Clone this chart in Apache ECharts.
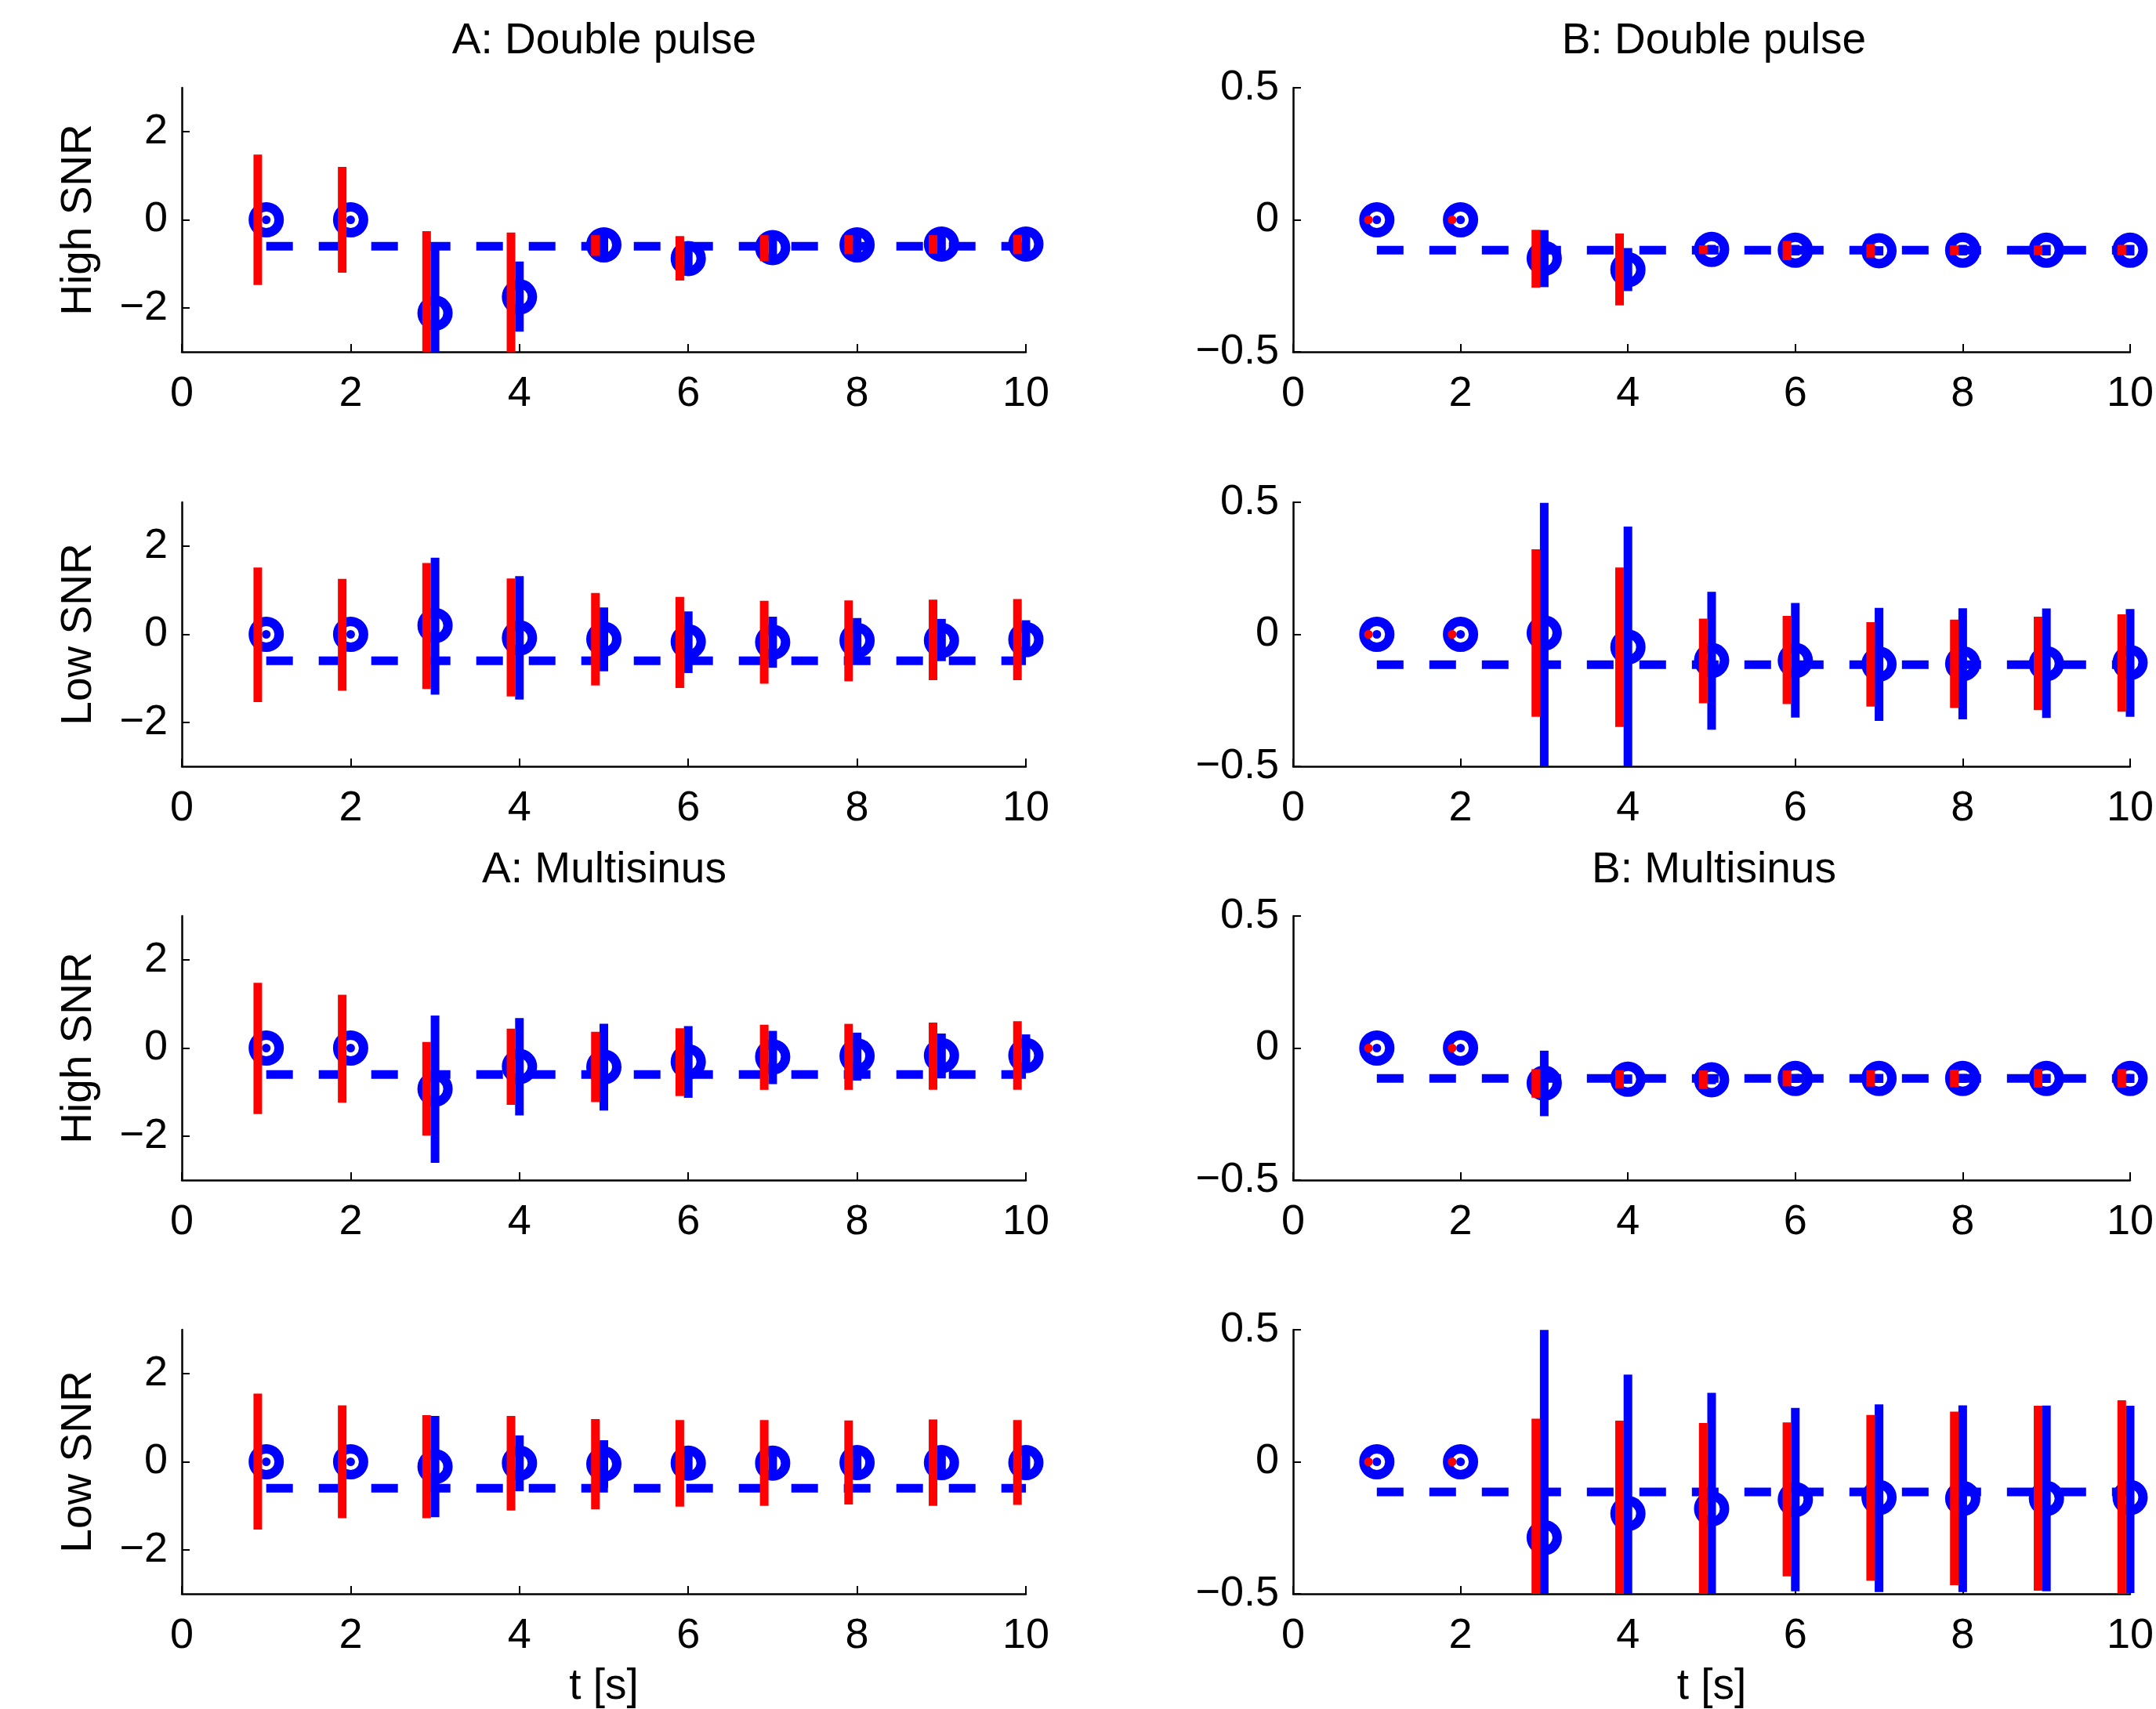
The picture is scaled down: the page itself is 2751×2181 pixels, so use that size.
<!DOCTYPE html>
<html>
<head>
<meta charset="utf-8">
<title>Double pulse / Multisinus estimates</title>
<script src="https://cdn.jsdelivr.net/npm/echarts@6.0.0/dist/echarts.min.js"></script>
<style>
  html, body { margin: 0; padding: 0; background: #fff; }
  #chart { width: 2751px; height: 2181px; }
</style>
</head>
<body>
<div id="chart"></div>
<script>
// time axis, shared by all panels
const tSec = [1, 2, 3, 4, 5, 6, 7, 8, 9, 10];
const xTicks = [0, 2, 4, 6, 8, 10];
const yTicksA = [-2, 0, 2];
const yTicksB = [-0.5, 0, 0.5];

// A: Double pulse, High SNR
const aDpHighTrue = -0.6;
const aDpHighMean = [0, 0, -2.12, -1.75, -0.57, -0.88, -0.63, -0.57, -0.55, -0.55];
const aDpHighRedLo = [-1.48, -1.2, -3.98, -3.21, -0.82, -1.38, -0.94, -0.78, -0.77, -0.78];
const aDpHighRedHi = [1.48, 1.2, -0.26, -0.29, -0.35, -0.37, -0.35, -0.35, -0.35, -0.34];
const aDpHighBlueLo = [0, 0, -3.72, -2.54, -0.77, -1.08, -0.83, -0.77, -0.75, -0.75];
const aDpHighBlueHi = [0, 0, -0.52, -0.95, -0.37, -0.68, -0.43, -0.37, -0.35, -0.35];

// A: Double pulse, Low SNR
const aDpLowTrue = -0.6;
const aDpLowMean = [0, 0, 0.2, -0.08, -0.11, -0.17, -0.18, -0.14, -0.14, -0.12];
const aDpLowRedLo = [-1.54, -1.28, -1.24, -1.41, -1.16, -1.22, -1.12, -1.07, -1.04, -1.04];
const aDpLowRedHi = [1.52, 1.26, 1.62, 1.27, 0.94, 0.85, 0.76, 0.77, 0.79, 0.80];
const aDpLowBlueLo = [0, 0, -1.37, -1.48, -0.84, -0.88, -0.76, -0.55, -0.61, -0.50];
const aDpLowBlueHi = [0, 0, 1.74, 1.32, 0.61, 0.52, 0.40, 0.37, 0.35, 0.32];

// A: Multisinus, High SNR
const aMsHighTrue = -0.6;
const aMsHighMean = [0, 0, -0.93, -0.42, -0.43, -0.31, -0.2, -0.18, -0.17, -0.17];
const aMsHighRedLo = [-1.50, -1.24, -1.99, -1.29, -1.23, -1.09, -0.95, -0.95, -0.95, -0.95];
const aMsHighRedHi = [1.48, 1.21, 0.14, 0.44, 0.37, 0.45, 0.53, 0.55, 0.58, 0.61];
const aMsHighBlueLo = [0, 0, -2.61, -1.53, -1.42, -1.13, -0.82, -0.74, -0.69, -0.55];
const aMsHighBlueHi = [0, 0, 0.74, 0.68, 0.55, 0.50, 0.39, 0.35, 0.33, 0.31];

// A: Multisinus, Low SNR
const aMsLowTrue = -0.6;
const aMsLowMean = [0, 0, -0.11, -0.03, -0.05, -0.03, -0.03, -0.02, -0.02, -0.02];
const aMsLowRedLo = [-1.54, -1.28, -1.28, -1.11, -1.08, -1.02, -1.00, -0.97, -1.00, -0.98];
const aMsLowRedHi = [1.55, 1.28, 1.06, 1.04, 0.97, 0.95, 0.95, 0.94, 0.96, 0.95];
const aMsLowBlueLo = [0, 0, -1.26, -0.67, -0.59, -0.3, -0.3, -0.3, -0.3, -0.3];
const aMsLowBlueHi = [0, 0, 1.04, 0.60, 0.49, 0.25, 0.25, 0.25, 0.25, 0.25];

// B: Double pulse, High SNR
const bDpHighTrue = -0.115;
const bDpHighMean = [0, 0, -0.146, -0.189, -0.112, -0.115, -0.117, -0.115, -0.115, -0.115];
const bDpHighRedLo = [0, 0, -0.257, -0.324, -0.130, -0.153, -0.143, -0.134, -0.134, -0.134];
const bDpHighRedHi = [0, 0, -0.038, -0.052, -0.097, -0.080, -0.092, -0.097, -0.097, -0.095];
const bDpHighBlueLo = [0, 0, -0.255, -0.270, -0.130, -0.135, -0.135, -0.135, -0.135, -0.135];
const bDpHighBlueHi = [0, 0, -0.039, -0.107, -0.095, -0.095, -0.100, -0.095, -0.095, -0.095];

// B: Double pulse, Low SNR
const bDpLowTrue = -0.115;
const bDpLowMean = [0, 0, 0.005, -0.048, -0.099, -0.099, -0.113, -0.111, -0.111, -0.107];
const bDpLowRedLo = [0, 0, -0.312, -0.351, -0.261, -0.264, -0.274, -0.279, -0.287, -0.293];
const bDpLowRedHi = [0, 0, 0.322, 0.253, 0.059, 0.070, 0.046, 0.056, 0.067, 0.076];
const bDpLowBlueLo = [0, 0, -0.500, -0.504, -0.361, -0.315, -0.328, -0.322, -0.317, -0.312];
const bDpLowBlueHi = [0, 0, 0.498, 0.408, 0.161, 0.119, 0.100, 0.099, 0.098, 0.096];

// B: Multisinus, High SNR
const bMsHighTrue = -0.115;
const bMsHighMean = [0, 0, -0.133, -0.118, -0.120, -0.115, -0.115, -0.115, -0.115, -0.115];
const bMsHighRedLo = [0, 0, -0.188, -0.152, -0.155, -0.145, -0.146, -0.148, -0.150, -0.150];
const bMsHighRedHi = [0, 0, -0.080, -0.084, -0.085, -0.085, -0.084, -0.082, -0.080, -0.080];
const bMsHighBlueLo = [0, 0, -0.258, -0.135, -0.137, -0.132, -0.132, -0.132, -0.132, -0.132];
const bMsHighBlueHi = [0, 0, -0.010, -0.100, -0.103, -0.098, -0.098, -0.098, -0.098, -0.098];

// B: Multisinus, Low SNR
const bMsLowTrue = -0.114;
const bMsLowMean = [0, 0, -0.287, -0.196, -0.178, -0.143, -0.135, -0.139, -0.139, -0.135];
const bMsLowRedLo = [0, 0, -0.737, -0.548, -0.503, -0.434, -0.450, -0.467, -0.488, -0.503];
const bMsLowRedHi = [0, 0, 0.163, 0.156, 0.147, 0.149, 0.177, 0.190, 0.212, 0.233];
const bMsLowBlueLo = [0, 0, -1.073, -0.722, -0.617, -0.490, -0.493, -0.493, -0.490, -0.497];
const bMsLowBlueHi = [0, 0, 0.499, 0.330, 0.261, 0.204, 0.217, 0.214, 0.213, 0.212];

const panels = [
    {col: 0, row: 0, ylab: 'High SNR', tr: aDpHighTrue, mean: aDpHighMean, rLo: aDpHighRedLo, rHi: aDpHighRedHi, bLo: aDpHighBlueLo, bHi: aDpHighBlueHi},
    {col: 0, row: 1, ylab: 'Low SNR', tr: aDpLowTrue, mean: aDpLowMean, rLo: aDpLowRedLo, rHi: aDpLowRedHi, bLo: aDpLowBlueLo, bHi: aDpLowBlueHi},
    {col: 0, row: 2, ylab: 'High SNR', tr: aMsHighTrue, mean: aMsHighMean, rLo: aMsHighRedLo, rHi: aMsHighRedHi, bLo: aMsHighBlueLo, bHi: aMsHighBlueHi},
    {col: 0, row: 3, ylab: 'Low SNR', tr: aMsLowTrue, mean: aMsLowMean, rLo: aMsLowRedLo, rHi: aMsLowRedHi, bLo: aMsLowBlueLo, bHi: aMsLowBlueHi},
    {col: 1, row: 0, ylab: '', tr: bDpHighTrue, mean: bDpHighMean, rLo: bDpHighRedLo, rHi: bDpHighRedHi, bLo: bDpHighBlueLo, bHi: bDpHighBlueHi},
    {col: 1, row: 1, ylab: '', tr: bDpLowTrue, mean: bDpLowMean, rLo: bDpLowRedLo, rHi: bDpLowRedHi, bLo: bDpLowBlueLo, bHi: bDpLowBlueHi},
    {col: 1, row: 2, ylab: '', tr: bMsHighTrue, mean: bMsHighMean, rLo: bMsHighRedLo, rHi: bMsHighRedHi, bLo: bMsHighBlueLo, bHi: bMsHighBlueHi},
    {col: 1, row: 3, ylab: '', tr: bMsLowTrue, mean: bMsLowMean, rLo: bMsLowRedLo, rHi: bMsLowRedHi, bLo: bMsLowBlueLo, bHi: bMsLowBlueHi},
];

const FONT = "'Liberation Sans', Arial, Helvetica, sans-serif";
const BLUE = '#0000ff';
const RED = '#ff0000';
const BAR_W = 11;
const RED_SHIFT = -0.1;
const colLeft = [232, 1650];
const colWidth = [1077, 1074];
const rowTop = [112, 641, 1169, 1697];
const rowHeight = 337;

const fmt = (v) => (v < 0 ? '\u2212' + String(-v) : String(v));

const grids = [], xAxes = [], yAxes = [], series = [];

panels.forEach((p, i) => {
    grids.push({left: colLeft[p.col], top: rowTop[p.row], width: colWidth[p.col], height: rowHeight, containLabel: false});

    xAxes.push({
        type: 'value', gridIndex: i, min: 0, max: 10, interval: 2,
        name: p.row === 3 ? 't [s]' : '', nameLocation: 'middle', nameGap: 91,
        nameTextStyle: {fontSize: 55, color: '#000', fontFamily: FONT},
        axisLine: {show: true, onZero: false, lineStyle: {color: '#000', width: 2.5}},
        axisTick: {show: true, inside: true, length: 10, customValues: xTicks, lineStyle: {color: '#000', width: 2}},
        axisLabel: {fontSize: 54, color: '#000', fontFamily: FONT, margin: 27, customValues: xTicks, formatter: fmt},
        splitLine: {show: false}
    });

    const ticks = p.col === 0 ? yTicksA : yTicksB;
    yAxes.push({
        type: 'value', gridIndex: i,
        min: p.col === 0 ? -3 : -0.5, max: p.col === 0 ? 3 : 0.5,
        name: p.ylab, nameLocation: 'middle', nameGap: 104,
        nameTextStyle: {fontSize: 55, color: '#000', fontFamily: FONT},
        axisLine: {show: true, onZero: false, lineStyle: {color: '#000', width: 2.5}},
        axisTick: {show: true, inside: true, length: 10, customValues: ticks, lineStyle: {color: '#000', width: 2}},
        axisLabel: {fontSize: 54, color: '#000', fontFamily: FONT, margin: 18, customValues: ticks, formatter: fmt},
        splitLine: {show: false}
    });

    // true value, dashed
    series.push({
        type: 'line', xAxisIndex: i, yAxisIndex: i, z: 1, symbol: 'none', silent: true,
        data: [[tSec[0], p.tr], [tSec[tSec.length - 1], p.tr]],
        lineStyle: {color: BLUE, width: 11, type: [34, 33], cap: 'butt', opacity: 1}
    });

    // estimates
    series.push({
        type: 'scatter', xAxisIndex: i, yAxisIndex: i, z: 2, symbol: 'circle', symbolSize: 33,
        data: tSec.map((t, k) => [t, p.mean[k]]),
        itemStyle: {color: 'transparent', borderColor: BLUE, borderWidth: 12, opacity: 1}
    });

    series.push(barSeries(i, p.bLo, p.bHi, BLUE, 0, 3));
    series.push(barSeries(i, p.rLo, p.rHi, RED, RED_SHIFT, 4));
});

function barSeries(idx, lo, hi, color, shift, z) {
    return {
        type: 'custom', xAxisIndex: idx, yAxisIndex: idx, z: z, silent: true,
        data: tSec.map((t, k) => [t + shift, lo[k], hi[k]]),
        renderItem: function (params, api) {
            const x = api.value(0);
            const top = api.coord([x, api.value(2)]);
            const bot = api.coord([x, api.value(1)]);
            const cs = params.coordSys;
            if (Math.abs(bot[1] - top[1]) < 1) {
                return {type: 'circle', shape: {cx: top[0], cy: top[1], r: BAR_W / 2}, style: {fill: color}};
            }
            const y0 = Math.max(top[1], cs.y);
            const y1 = Math.min(bot[1], cs.y + cs.height);
            return {
                type: 'rect',
                shape: {x: top[0] - BAR_W / 2, y: y0, width: BAR_W, height: y1 - y0},
                style: {fill: color}
            };
        }
    };
}

const titleStyle = {fontSize: 55, fontWeight: 'normal', color: '#000', fontFamily: FONT};
const titles = [
    {text: 'A: Double pulse', left: 771, top: 25},
    {text: 'B: Double pulse', left: 2187, top: 25},
    {text: 'A: Multisinus', left: 771, top: 1083},
    {text: 'B: Multisinus', left: 2187, top: 1083}
].map(t => Object.assign(t, {textAlign: 'center', padding: 0, textStyle: titleStyle}));

const chart = echarts.init(document.getElementById('chart'), null, {renderer: 'canvas'});
chart.setOption({
    animation: false,
    backgroundColor: '#fff',
    title: titles,
    grid: grids,
    xAxis: xAxes,
    yAxis: yAxes,
    series: series
});
</script>
</body>
</html>
